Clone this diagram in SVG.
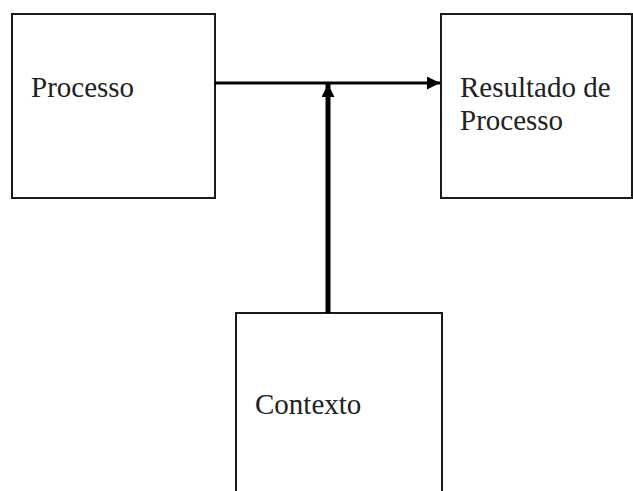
<svg xmlns="http://www.w3.org/2000/svg" width="633" height="491" viewBox="0 0 633 491">
<style>
.box{fill:#fff;stroke:#1a1a1a;stroke-width:2}
.lbl{font-family:"Liberation Serif","Times New Roman",serif;font-size:29px;fill:#222}
.conn{stroke:#000;fill:none}
</style>
<defs>
<marker id="ah" viewBox="0 0 10 10" refX="10" refY="5" markerUnits="userSpaceOnUse" markerWidth="15" markerHeight="13" orient="auto">
<path d="M0,0 L10,5 L0,10 Z" fill="#000"/>
</marker>
</defs>
<rect width="633" height="491" fill="#fff"/>
<g id="processo">
<rect class="box" x="12" y="14" width="203" height="184"/>
<text class="lbl" x="31" y="97">Processo</text>
</g>
<g id="resultado">
<rect class="box" x="441" y="14" width="191" height="184"/>
<text class="lbl" x="460" y="97">Resultado de</text>
<text class="lbl" x="460" y="130">Processo</text>
</g>
<g id="contexto">
<rect class="box" x="236" y="313" width="206" height="190"/>
<text class="lbl" x="255" y="414">Contexto</text>
</g>
<g id="connectors">
<line class="conn" x1="215" y1="83" x2="440" y2="83" stroke-width="3" marker-end="url(#ah)"/>
<line class="conn" x1="328" y1="313" x2="328" y2="84" stroke-width="5" marker-end="url(#ah)"/>
</g>
</svg>
